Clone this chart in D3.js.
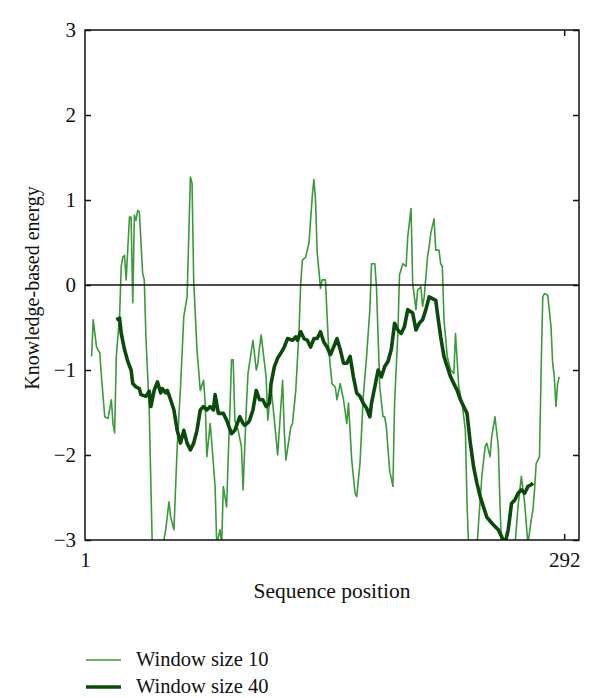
<!DOCTYPE html>
<html><head><meta charset="utf-8">
<script src="https://cdn.jsdelivr.net/npm/d3@7"></script>
<style>body{margin:0;background:#fff}svg text{font-family:"Liberation Serif","Times New Roman",serif;fill:#111}</style>
</head><body><svg id="c" width="600" height="698"></svg>
<script>
// Window size 10 profile: sequence positions and energies
const pos10 = [5,6,8,10,11,13,15,17,18,19,20,22,23,24,25,26,28,29,30,31,32,33,34,36,37,38,40,42,45,48,50,52,53,55,57,59,61,63,65,66,67,69,71,73,74,75,77,78,80,81,83,84,85,87,88,89,90,91,92,94,96,97,99,100,103,105,106,107,108,110,111,112,114,116,118,121,122,123,126,127,129,131,132,133,135,137,139,140,141,142,143,144,145,147,149,151,153,154,156,158,160,161,163,165,166,168,170,172,174,175,177,178,179,180,182,183,184,186,188,189,191,192,194,196,197,199,200,202,203,205,206,207,209,210,211,213,214,216,217,218,219,221,223,225,226,228,230,232,233,234,236,239,240,242,244,245,247,248,250,252,253,254,258,262,264,266,268,270,272,273,274,275,277,278,279,280,282,284,285,286,287,288,289];
const energy10 = [-0.84,-0.41,-0.73,-0.80,-1.08,-1.55,-1.57,-1.35,-1.63,-1.74,-0.84,-0.37,0.22,0.33,0.35,0.06,0.80,0.80,-0.21,0.82,0.76,0.88,0.86,0.14,0.06,-0.61,-1.47,-3.2,-3.4,-3.1,-2.88,-2.55,-2.73,-2.88,-1.90,-1.20,-0.37,-0.14,1.27,1.20,0.06,-0.76,-1.24,-1.12,-1.39,-2.02,-1.63,-1.86,-2.37,-3.05,-2.88,-3.05,-2.37,-2.61,-2.02,-1.47,-0.88,-0.88,-1.59,-1.71,-1.90,-2.41,-1.43,-1.04,-0.65,-1.0,-0.92,-0.73,-0.59,-0.92,-1.08,-1.59,-1.20,-1.59,-2.0,-1.12,-1.71,-2.06,-1.67,-1.63,-1.24,-0.53,0.02,0.29,0.33,0.49,1.04,1.24,1.0,0.38,0.18,-0.04,0.06,0.06,-0.76,-1.16,-1.20,-1.35,-1.16,-1.35,-1.63,-1.39,-2.06,-2.45,-2.49,-2.10,-1.31,-0.84,-0.29,0.25,0.25,-0.02,-0.61,-1.20,-1.55,-1.55,-1.67,-2.18,-2.37,-1.39,-0.57,0.12,0.25,0.22,0.57,0.90,0.02,-0.29,-0.06,-0.02,-0.25,-0.14,0.33,0.45,0.61,0.78,0.41,0.41,0.25,0.22,-0.41,-0.84,-1.0,-1.04,-0.57,-1.20,-1.39,-1.71,-2.57,-3.1,-3.3,-3.1,-2.8,-2.25,-1.90,-1.86,-2.02,-1.78,-1.55,-1.90,-2.57,-3.1,-3.4,-3.1,-2.6,-2.25,-2.57,-3.05,-2.76,-2.65,-2.41,-2.10,-2.02,-1.0,-0.14,-0.10,-0.12,-0.49,-0.92,-1.08,-1.43,-1.16,-1.08];
// Window size 40 profile
const pos40 = [20,22,23,25,27,29,30,32,34,35,38,40,41,43,45,47,48,50,51,53,55,57,59,61,63,65,67,69,71,73,75,77,79,80,82,85,87,90,92,95,97,98,100,101,103,105,107,109,111,113,114,116,118,120,122,124,127,129,130,132,134,136,138,140,142,144,146,148,150,152,154,156,158,160,162,164,166,168,170,172,174,175,177,179,181,183,185,187,189,191,193,195,197,200,202,204,206,208,210,212,214,215,217,219,221,223,225,227,229,231,233,235,237,239,241,243,245,248,250,252,254,256,258,259,260,262,264,266,268,270,272,273];
const energy40 = [-0.41,-0.39,-0.57,-0.76,-0.90,-1.0,-1.16,-1.20,-1.22,-1.29,-1.31,-1.25,-1.43,-1.24,-1.14,-1.27,-1.22,-1.27,-1.24,-1.35,-1.47,-1.71,-1.86,-1.71,-1.86,-1.94,-1.86,-1.71,-1.47,-1.43,-1.47,-1.43,-1.47,-1.29,-1.51,-1.51,-1.59,-1.75,-1.71,-1.55,-1.63,-1.65,-1.62,-1.59,-1.47,-1.24,-1.35,-1.35,-1.43,-1.39,-1.16,-0.96,-0.86,-0.80,-0.73,-0.63,-0.65,-0.61,-0.65,-0.55,-0.63,-0.65,-0.73,-0.63,-0.63,-0.55,-0.67,-0.73,-0.82,-0.73,-0.63,-0.76,-0.92,-0.92,-0.84,-1.08,-1.27,-1.31,-1.39,-1.45,-1.55,-1.39,-1.20,-1.0,-1.08,-0.96,-0.90,-0.76,-0.45,-0.53,-0.57,-0.49,-0.29,-0.33,-0.53,-0.45,-0.41,-0.29,-0.14,-0.16,-0.18,-0.33,-0.61,-0.84,-0.96,-1.08,-1.16,-1.24,-1.35,-1.43,-1.51,-1.86,-2.14,-2.33,-2.49,-2.61,-2.73,-2.80,-2.84,-2.88,-2.96,-3.05,-2.88,-2.73,-2.57,-2.53,-2.45,-2.41,-2.45,-2.37,-2.35,-2.33];
const yTicks = [-3,-2,-1,0,1,2,3];
const xTicks = [1,292];
const seriesNames = ["Window size 10","Window size 40"];

const svg = d3.select("#c");
const m = {l:85,r:579,t:30,b:540};
const x = d3.scaleLinear().domain([1,301]).range([m.l,m.r]);
const y = d3.scaleLinear().domain([-3,3]).range([m.b,m.t]);
const light = "#3a9a3a", dark = "#0b4a0b";

svg.append("clipPath").attr("id","clip").append("rect")
  .attr("x",m.l).attr("y",m.t).attr("width",m.r-m.l).attr("height",m.b-m.t);

const line = d3.line().x(d=>x(d[0])).y(d=>y(d[1]));
const d10 = pos10.map((p,i)=>[p,energy10[i]]);
const d40 = pos40.map((p,i)=>[p,energy40[i]]);

const g = svg.append("g").attr("clip-path","url(#clip)");
g.append("path").datum(d10).attr("d",line).attr("fill","none").attr("stroke",light).attr("stroke-width",1.6).attr("stroke-linejoin","round");
g.append("path").datum(d40).attr("d",line).attr("fill","none").attr("stroke",dark).attr("stroke-width",3.6).attr("stroke-linejoin","round");

// zero line
svg.append("line").attr("x1",m.l).attr("x2",m.r).attr("y1",y(0)).attr("y2",y(0)).attr("stroke","#111").attr("stroke-width",1.5);

// frame
svg.append("rect").attr("x",m.l).attr("y",m.t).attr("width",m.r-m.l).attr("height",m.b-m.t)
  .attr("fill","none").attr("stroke","#111").attr("stroke-width",1.5);

// axes
const fmt = d => d<0 ? "\u2212"+Math.abs(d) : String(d);
const yl = svg.append("g").attr("transform",`translate(${m.l},0)`)
  .call(d3.axisLeft(y).tickValues(yTicks).tickSizeInner(-6).tickSizeOuter(0).tickPadding(9).tickFormat(fmt));
const yr = svg.append("g").attr("transform",`translate(${m.r},0)`)
  .call(d3.axisRight(y).tickValues(yTicks).tickSizeInner(-6).tickSizeOuter(0).tickFormat(""));
const xb = svg.append("g").attr("transform",`translate(0,${m.b})`)
  .call(d3.axisBottom(x).tickValues(xTicks).tickSizeInner(-6).tickSizeOuter(0).tickPadding(12).tickFormat(d3.format("d")));
const xt = svg.append("g").attr("transform",`translate(0,${m.t})`)
  .call(d3.axisTop(x).tickValues(xTicks).tickSizeInner(-6).tickSizeOuter(0).tickFormat(""));
[yl,yr,xb,xt].forEach(a=>{a.select(".domain").remove();a.selectAll("line").attr("stroke","#111").attr("stroke-width",1.5);
  a.selectAll("text").style("font-family",'"Liberation Serif",serif').style("font-size","21px").attr("fill","#111");});
xb.selectAll(".tick").filter(d=>d===1).select("line").remove();
xt.selectAll(".tick").filter(d=>d===1).select("line").remove();

svg.append("text").attr("x",332).attr("y",598).attr("text-anchor","middle").style("font-size","21.5px").text("Sequence position");
svg.append("text").attr("transform","translate(39,288) rotate(-90)").attr("text-anchor","middle").style("font-size","20px").text("Knowledge-based energy");

// legend
const leg = svg.append("g");
seriesNames.forEach((s,i)=>{
  const yy = 660 + i*27;
  leg.append("line").attr("x1",86).attr("x2",121).attr("y1",yy).attr("y2",yy)
    .attr("stroke",i?dark:light).attr("stroke-width",i?3.6:1.6);
  leg.append("text").attr("x",136).attr("y",yy+6).style("font-size","20.5px").text(s);
});
</script></body></html>
